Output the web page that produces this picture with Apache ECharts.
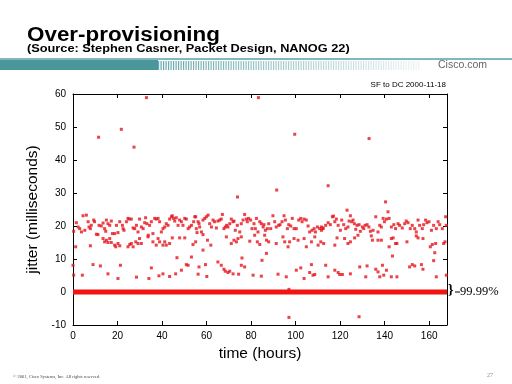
<!DOCTYPE html>
<html><head><meta charset="utf-8">
<script src="https://cdn.jsdelivr.net/npm/echarts@6/dist/echarts.min.js"></script>
<style>html,body{margin:0;padding:0;background:#fff}#c{width:512px;height:384px}</style>
</head><body><div id="c"></div>
<script>
// hours, jitter (ms)
const bandHigh = [
[0.3,18.4],[1.5,21.0],[2.3,19.7],[3.0,19.2],[3.8,18.2],[4.5,23.1],[5.3,18.7],[6.0,23.3],[6.8,21.3],[7.2,19.7],
[7.8,19.2],[8.2,20.2],[9.3,21.8],[9.7,21.3],[10.5,17.5],[11.2,17.4],[11.7,20.2],[12.7,20.0],[13.5,20.9],[14.2,19.2],
[14.7,18.4],[15.0,21.8],[15.7,20.7],[16.5,20.2],[17.2,21.5],[17.7,17.7],[18.7,17.7],[19.5,20.2],[20.2,18.0],[21.0,21.3],
[22.2,20.2],[22.5,19.2],[22.9,18.7],[24.0,21.3],[24.7,22.3],[25.2,22.1],[26.2,22.1],[27.0,19.4],[27.7,19.2],[28.5,20.2],
[29.2,18.2],[29.9,22.1],[30.7,19.7],[31.5,19.2],[32.2,21.0],[32.6,22.5],[33.2,20.7],[33.8,17.2],[34.4,20.2],[35.2,21.3],
[35.9,17.7],[36.7,22.3],[37.4,22.1],[38.2,22.3],[38.9,21.3],[39.7,18.2],[40.4,19.2],[41.2,19.7],[41.9,20.7],[42.7,20.2],
[43.4,22.1],[44.2,22.8],[44.6,23.1],[45.2,22.3],[45.7,21.5],[46.4,22.5],[47.2,20.2],[47.9,21.8],[48.7,21.3],[49.4,20.2],
[50.2,22.3],[50.9,22.1],[51.7,19.2],[52.4,19.7],[53.2,20.2],[54.2,21.3],[55.1,22.8],[55.7,18.0],[56.6,20.7],
[54.7,22.8],[55.4,19.2],[56.2,21.3],[56.9,19.7],[57.7,18.2],[58.4,21.8],[59.2,22.3],[59.9,22.8],[60.7,23.3],[61.4,20.7],
[62.2,19.7],[62.9,21.8],[63.6,21.3],[64.4,19.4],[65.1,21.5],[65.9,21.8],[66.6,22.1],[67.1,23.5],[67.8,19.2],[68.4,19.7],
[69.0,20.2],[69.6,19.7],[70.4,20.7],[71.1,22.1],[71.9,21.3],[72.3,21.5],[72.9,18.7],[73.8,20.2],[74.9,18.2],[75.6,20.7],
[76.4,21.8],[77.1,23.5],[77.9,22.1],[78.3,21.3],[78.9,22.3],[79.8,21.8],[80.4,19.2],[81.3,20.7],[81.9,19.2],[82.4,22.3],
[83.1,18.2],[83.9,21.3],[84.6,20.7],[85.4,19.7],[85.8,20.4],[86.4,18.7],[87.3,19.2],[87.9,20.7],[88.8,19.2],[89.8,23.1],
[90.6,21.3],[91.3,19.7],[92.4,20.2],[93.0,20.4],[93.9,21.3],[94.8,23.1],[95.4,21.8],[96.3,19.2],[96.9,20.4],[97.8,20.0],
[98.5,22.3],[99.3,19.2],[100.3,19.2],[101.4,21.8],[102.3,22.3],[102.9,21.3],[103.8,22.1],[104.8,21.8],[105.6,20.0],[106.3,18.2],
[107.4,18.7],[108.3,19.2],[108.9,18.2],[109.8,19.7],[110.8,19.2],[111.6,18.7],[112.3,19.4],
[111.6,19.7],[112.3,19.2],[113.5,20.2],[114.6,21.0],[115.6,20.4],[116.5,22.8],[117.0,23.0],[117.6,21.3],[118.3,22.1],[119.1,20.2],
[120.1,18.7],[120.7,21.8],[121.6,20.4],[122.5,19.2],[123.5,19.7],[124.0,21.5],[124.6,23.1],[125.2,21.3],[125.8,21.8],[126.4,20.7],
[127.0,19.0],[127.6,20.2],[128.5,20.4],[129.1,18.4],[130.0,19.7],[130.6,19.2],[131.2,20.2],[132.1,20.4],[132.9,19.7],[133.6,18.4],
[134.8,18.7],[136.0,22.8],[137.0,18.2],[137.8,20.2],[138.5,19.7],[139.3,22.3],[139.9,21.3],[140.8,22.1],[142.0,22.3],[143.0,19.7],
[144.1,20.4],[144.9,19.2],[146.0,20.7],[146.7,20.2],[147.9,19.4],[149.0,20.7],[149.7,21.5],[150.5,21.0],[151.5,19.2],[152.4,20.2],
[153.5,19.2],[154.2,18.2],[155.0,21.8],[155.7,20.2],[156.9,19.2],[157.5,20.4],[158.4,21.8],[159.0,21.0],[159.9,21.3],[161.0,18.7],
[162.0,20.2],[163.2,19.2],[164.0,21.3],[164.7,20.4],[165.9,19.2],[167.4,22.8],[167.7,20.2]
];
const bandLow = [
[1.2,13.7],[7.8,14.0],[13.5,16.2],[14.2,15.2],[15.0,15.7],[15.7,15.0],[16.5,16.2],[17.2,15.0],[18.7,14.2],[19.2,13.7],
[20.2,14.7],[21.0,14.0],[24.7,13.7],[25.5,14.4],[26.2,14.7],[27.0,13.7],[28.2,15.2],[29.2,14.7],[29.9,16.2],[30.7,14.7],
[33.7,16.7],[35.9,15.2],[37.4,14.2],[38.2,16.2],[38.9,15.2],[40.4,14.2],[41.2,15.2],[41.9,14.2],[43.4,14.7],[44.6,16.4],
[47.9,16.4],[50.2,16.4],[53.9,14.4],
[55.1,15.2],[58.4,17.4],[60.4,15.7],[61.9,14.2],[68.9,16.7],[71.1,14.7],[72.3,15.7],[73.4,15.2],[74.1,16.2],[75.6,16.7],
[79.4,15.4],[81.6,17.2],[82.8,15.2],[83.9,14.4],[86.1,17.2],[86.9,15.7],[87.9,15.2],[91.3,14.7],[94.3,16.7],[95.1,15.2],
[96.6,13.7],[97.3,15.2],[99.3,16.2],[101.1,15.7],[103.8,16.2],[104.8,13.7],[107.1,15.2],[108.6,16.7],[110.1,14.2],[111.3,15.2],
[112.6,14.7],[117.6,14.2],[118.6,16.4],[122.0,16.2],[123.5,14.7],[124.6,15.2],[126.5,16.4],[128.0,17.2],[134.0,17.0],[134.5,15.7],
[137.0,15.7],[138.5,15.7],[142.0,13.7],[143.0,16.2],[143.8,16.4],[144.9,14.7],[145.5,14.7],[150.0,15.2],[154.2,17.0],[155.0,16.4],
[157.2,16.2],[160.5,13.7],[161.4,14.4],[162.9,14.7],[166.5,14.7],[167.1,15.2]
];
const scattered = [
[0.0,8.1],[0.3,5.1],[4.2,5.1],[9.0,8.3],[12.3,7.9],[15.7,5.5],[20.2,4.1],[21.3,8.1],[28.5,4.5],[34.1,4.1],
[35.2,7.3],[38.6,4.9],[40.4,5.5],[43.4,4.7],[46.1,5.5],[46.7,10.4],[48.7,6.6],[50.9,8.3],[51.7,8.1],[53.2,10.6],
[56.2,5.4],[56.6,7.6],[58.4,12.7],[59.5,8.3],[60.1,4.7],[65.1,9.1],[66.6,8.1],[67.8,6.9],[68.4,6.3],[69.6,5.9],
[70.4,6.3],[71.9,5.5],[74.4,5.4],[75.9,10.3],[75.6,8.1],[77.1,7.6],[80.9,5.1],[84.6,4.8],[84.9,9.6],[86.9,11.7],
[92.1,5.4],[95.8,4.6],[97.0,0.8],[100.3,6.6],[102.3,7.3],[103.8,4.1],[107.1,8.3],[106.3,5.9],[107.8,5.1],[108.6,5.3],
[113.5,8.1],[114.6,4.6],[117.6,6.6],[119.1,5.9],[119.8,5.3],[121.0,5.3],[124.6,5.5],[128.8,7.6],[131.5,4.6],[132.1,7.9],
[136.0,6.9],[137.0,6.1],[137.8,4.6],[139.0,8.1],[139.6,5.1],[140.8,6.6],[143.5,10.9],[143.0,4.6],[145.5,4.6],[151.2,7.6],
[152.4,8.3],[153.5,7.9],[156.5,8.3],[157.2,6.9],[162.0,9.5],[162.5,11.9],[163.2,4.6],[167.7,5.1]
];
const outliers = [
[11.5,46.9],[21.7,49.3],[27.4,43.9],[33.0,58.9],[73.9,28.8],[83.3,58.9],[99.6,47.8],[91.5,30.9],
[114.6,32.2],[133.0,46.5],[140.4,27.3],[123.1,24.8],[141.5,24.3],[97.0,-7.7],[128.5,-7.5]
];
const zeroLine = [[0,0],[168,0]];
const xTicks = {min:0, max:168, interval:20};
const yTicks = {min:-10, max:60, interval:10};

const chart = echarts.init(document.getElementById('c'), null, {renderer:'canvas'});
const teal = '#4a979b';
const stripes = [];
for (let i = 0; i < 105; i++) {
  const x = 158 + i * 2.5;
  stripes.push({type:'rect', shape:{x:x, y:61, width:1.2, height:9},
    style:{fill:teal, opacity: Math.max(0.12, 0.85 - i*0.0072)}, silent:true});
}
const axisCommon = {
  axisLine:{show:true, onZero:false, lineStyle:{color:'#000', width:1}},
  axisTick:{show:true, inside:true, length:4, lineStyle:{color:'#000'}},
  splitLine:{show:false}
};
chart.setOption({
  animation:false,
  grid:{left:73, right:65, top:94, bottom:59},
  xAxis:[
    Object.assign({type:'value', position:'bottom', min:xTicks.min, max:xTicks.max, interval:xTicks.interval,
      name:'time (hours)', nameLocation:'middle', nameGap:20,
      nameTextStyle:{fontFamily:'Liberation Sans', fontSize:15.5, color:'#000'},
      axisLabel:{fontFamily:'Liberation Sans', fontSize:10, color:'#000', margin:6, showMaxLabel:false}}, axisCommon),
    Object.assign({type:'value', position:'top', min:xTicks.min, max:xTicks.max, interval:xTicks.interval,
      axisLabel:{show:false}}, axisCommon)
  ],
  yAxis:[
    Object.assign({type:'value', position:'left', min:yTicks.min, max:yTicks.max, interval:yTicks.interval,
      name:'jitter (milliseconds)', nameLocation:'middle', nameGap:25,
      nameTextStyle:{fontFamily:'Liberation Sans', fontSize:15.5, color:'#000'},
      axisLabel:{fontFamily:'Liberation Sans', fontSize:10, color:'#000', margin:7}}, axisCommon),
    Object.assign({type:'value', position:'right', min:yTicks.min, max:yTicks.max, interval:yTicks.interval,
      axisLabel:{show:false}}, axisCommon)
  ],
  series:[
    {type:'line', data:zeroLine, symbol:'none', lineStyle:{color:'#f21313', width:5}, z:2},
    {type:'scatter', data:[].concat(bandHigh, bandLow, scattered, outliers), symbol:'rect', symbolSize:3,
      itemStyle:{color:'#e5141c'}, z:3}
  ],
  graphic:[
    {type:'text', x:27, y:25, scaleX:1.12, style:{text:'Over-provisioning', font:'bold 20px "Liberation Sans"', fill:'#000'}},
    {type:'text', x:27, y:43, scaleX:1.16, style:{text:'(Source: Stephen Casner, Packet Design, NANOG 22)', font:'bold 11px "Liberation Sans"', fill:'#000'}},
    {type:'rect', shape:{x:0, y:58, width:512, height:2}, style:{fill:'#7fb9bc'}, silent:true},
    {type:'rect', shape:{x:0, y:60, width:158, height:10}, style:{fill:teal}, silent:true},
  ].concat(stripes, [
    {type:'text', left:438, top:60, style:{text:'Cisco.com', font:'10.5px "Liberation Sans"', fill:'#666'}},
    {type:'text', right:66, top:81, style:{text:'SF to DC 2000-11-18', font:'8px "Liberation Sans"', fill:'#000'}},
    {type:'text', left:448, top:283, style:{text:'}', font:'bold 14px "Liberation Serif"', fill:'#000'}},
    {type:'line', shape:{x1:455, y1:292, x2:460, y2:292}, style:{stroke:'#000', lineWidth:1}},
    {type:'text', left:460, top:285, style:{text:'99.99%', font:'12.5px "Liberation Serif"', fill:'#000'}},
    {type:'text', left:13, top:374, style:{text:'\u00a9 2001, Cisco Systems, Inc. All rights reserved.', font:'4.5px "Liberation Serif"', fill:'#444'}},
    {type:'text', left:487, top:372, style:{text:'27', font:'6px "Liberation Serif"', fill:'#888'}}
  ])
});
</script>
</body></html>
